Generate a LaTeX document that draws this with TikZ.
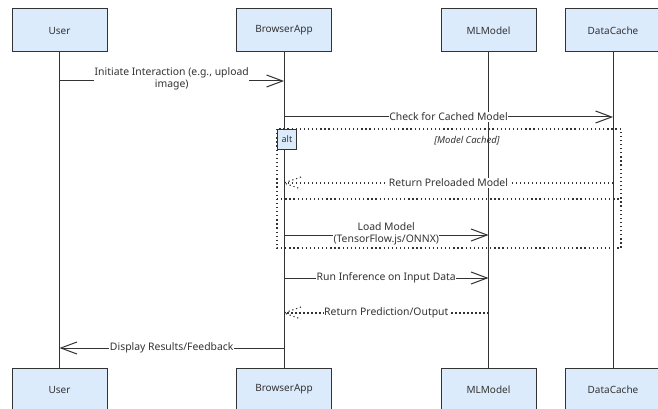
\documentclass[tikz,border=0pt]{standalone}
\usepackage{fontspec}
\setmainfont{Noto Sans}
\usetikzlibrary{arrows.meta}
\definecolor{boxfill}{RGB}{220,235,252}
\definecolor{ink}{RGB}{51,51,51}
\begin{document}
\begin{tikzpicture}[x=1pt,y=-1pt,
  actor/.style={draw=ink,fill=boxfill,line width=1pt,minimum width=95pt,minimum height=43pt,inner sep=0pt,font=\fontsize{10}{12}\selectfont,text=ink},
  lifeline/.style={draw=ink,line width=1pt},
  msg/.style={draw=ink,line width=1pt,-{Straight Barb[length=16pt,width=12pt,line width=1pt]}},
  ret/.style={draw=ink,line width=1.1pt,dash pattern=on 1.2pt off 2.8pt},
  lbl/.style={fill=white,inner sep=0.5pt,font=\fontsize{10.4}{12}\selectfont,text=ink,align=center},
  frame/.style={draw=ink,line width=1.3pt,dash pattern=on 1.3pt off 2.8pt},
  tag/.style={draw=ink,fill=boxfill,line width=1pt,minimum width=19pt,minimum height=20pt,inner sep=0pt,font=\fontsize{9}{10}\selectfont,text=ink}]
\useasboundingbox (0,0) rectangle (658,409);
\clip (0,0) rectangle (658,409);
% actors
\node[actor] (ut) at (59.5,30.5) {User};
\node[actor] (bt) at (284,30.5) {BrowserApp};
\node[actor] (mt) at (488.5,30.5) {MLModel};
\node[actor] (dt) at (613,30.5) {DataCache};
\node[actor] (ub) at (59.5,389.5) {User};
\node[actor] (bb) at (284,389.5) {BrowserApp};
\node[actor] (mb) at (488.5,389.5) {MLModel};
\node[actor] (db) at (613,389.5) {DataCache};
% lifelines
\draw[lifeline] (ut) -- (ub);
\draw[lifeline] (bt) -- (bb);
\draw[lifeline] (mt) -- (mb);
\draw[lifeline] (dt) -- (db);
% alt frame
\coordinate (fa) at (277,129);
\coordinate (fb) at (621,248);
\draw[frame] (fa) rectangle (fb);
\coordinate (dl) at (277,199);
\coordinate (dr) at (621,199);
\draw[frame] (dl) -- (dr);
\node[tag,anchor=north west] (alt) at (fa) {alt};
\node[font=\fontsize{9.5}{10}\selectfont\itshape,text=ink] (cond) at (467,141) {[Model Cached]};
% message points
\coordinate (m1a) at (59.5,81);  \coordinate (m1b) at (284,81);
\coordinate (m2a) at (284,117);  \coordinate (m2b) at (613,117);
\coordinate (m3a) at (613,183);  \coordinate (m3b) at (284,183);
\coordinate (m4a) at (284,235);  \coordinate (m4b) at (488.5,235);
\coordinate (m5a) at (284,278);  \coordinate (m5b) at (488.5,278);
\coordinate (m6a) at (488.5,313); \coordinate (m6b) at (284,313);
\coordinate (m7a) at (284,348);  \coordinate (m7b) at (59.5,348);
% messages
\draw[msg] (m1a) -- node[lbl,yshift=2pt] (l1) {Initiate Interaction (e.g., upload\\image)} (m1b);
\draw[msg] (m2a) -- node[lbl] (l2) {Check for Cached Model} (m2b);
\draw[ret] (m3a) -- node[lbl] (l3) {Return Preloaded Model} (m3b);
\draw[ret] (m3b) ++(17,-6) -- (m3b) -- ++(17,6);
\draw[msg] (m4a) -- node[lbl,yshift=1pt] (l4) {Load Model\\(TensorFlow.js/ONNX)} (m4b);
\draw[msg] (m5a) -- node[lbl] (l5) {Run Inference on Input Data} (m5b);
\draw[ret] (m6a) -- node[lbl] (l6) {Return Prediction/Output} (m6b);
\draw[ret] (m6b) ++(17,-6) -- (m6b) -- ++(17,6);
\draw[msg] (m7a) -- node[lbl] (l7) {Display Results/Feedback} (m7b);
\end{tikzpicture}
\end{document}
